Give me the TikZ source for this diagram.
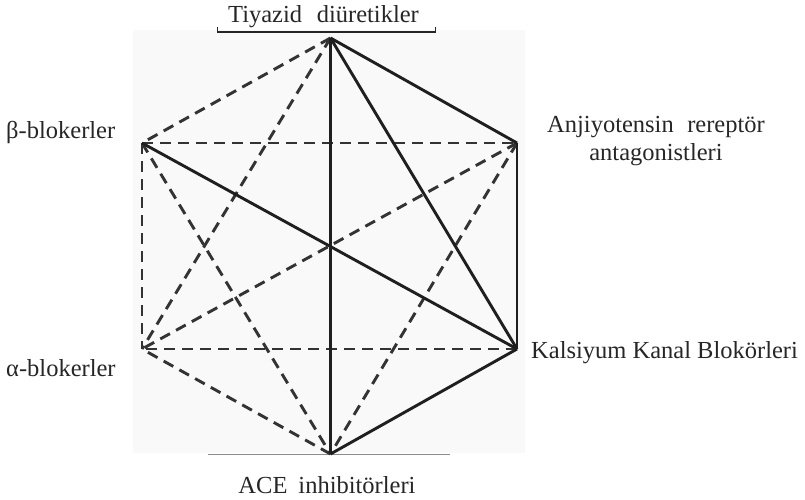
\documentclass[tikz,border=0pt]{standalone}
\usepackage{fontspec}
\setmainfont{Liberation Serif}
\begin{document}
\begin{tikzpicture}[x=1pt,y=-1pt,
  lbl/.style={inner sep=0pt,font=\fontsize{24.5}{29}\selectfont,text=black!85},
  solidedge/.style={line width=2.9pt,draw=black!88},
  dashedge/.style={line width=2.9pt,draw=black!80,dash pattern=on 11pt off 7pt},
]
\useasboundingbox (0,0) rectangle (805,500);
% faint scanned background
\fill[black!2.5] (133,30) rectangle (525,453);
\draw[black!45,line width=0.8pt] (208,454.5) -- (450,454.5);
% vertices
\coordinate (T)  at (330.5,38);
\coordinate (UR) at (517,143);
\coordinate (LR) at (517,349);
\coordinate (B)  at (330.5,454);
\coordinate (LL) at (142,349);
\coordinate (UL) at (142,143);
% dashed edges
\draw[dashedge] (T) -- (UL);
\draw[dashedge] (T) -- (LL);
\draw[dashedge] (UL) -- (UR);
\draw[dashedge] (UL) -- (B);
\draw[dashedge] (UL) -- (LL);
\draw[dashedge] (UR) -- (B);
\draw[dashedge] (UR) -- (LL);
\draw[dashedge] (LR) -- (LL);
\draw[dashedge] (B) -- (LL);
% solid edges
\draw[solidedge] (T) -- (UR);
\draw[solidedge] (T) -- (LR);
\draw[solidedge] (T) -- (B);
\draw[solidedge] (UL) -- (LR);
\draw[solidedge] (UR) -- (LR);
\draw[solidedge] (LR) -- (B);
% labels
\node[lbl,anchor=base] (tiy) at (323.5,23) {Tiyazid\hskip0.6em diüretikler};
\draw[black!85,line width=1.3pt] (217.5,27.5) -- (217.5,32) -- (435.5,32) -- (435.5,27.5);
\node[lbl,anchor=base west] (beta) at (6,139) {β-blokerler};
\node[lbl,anchor=base west] (alpha) at (6,376) {α-blokerler};
\node[lbl,anchor=base] (anj) at (656,132) {Anjiyotensin\hskip0.55em rereptör};
\node[lbl,anchor=base] (anj2) at (656,160) {antagonistleri};
\node[lbl,anchor=base west] (kal) at (531,358) {Kalsiyum Kanal Blokörleri};
\node[lbl,anchor=base] (ace) at (327,493) {ACE\hskip0.45em inhibitörleri};
\end{tikzpicture}
\end{document}
